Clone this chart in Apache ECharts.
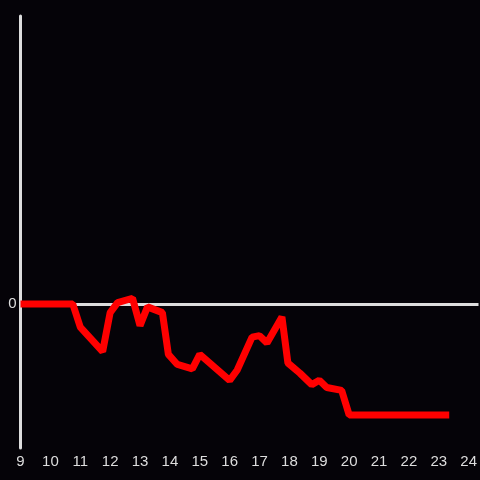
<!doctype html>
<html>
    <head>
        <meta charset="utf-8">
        <title>Line</title>
        <style>
            html, body { margin: 0; padding: 0; background: #050308; }
            #main { width: 480px; height: 480px; }
        </style>
    </head>
    <body>
        <div id="main"></div>
        <script src="https://cdn.jsdelivr.net/npm/echarts@6/dist/echarts.min.js"></script>
        <script>
            var chart = echarts.init(document.getElementById('main'));

            // hour of day
            var hours = [9, 10.75, 11, 11.75, 12, 12.25, 12.75, 13, 13.25, 13.75, 13.95, 14.25, 14.75, 15,
                16, 16.25, 16.75, 17, 17.25, 17.75, 17.95, 18.35, 18.75, 19, 19.25, 19.75, 20, 20.2, 23.35];
            var values = [0, 0, -0.16, -0.33, -0.06, 0.01, 0.04, -0.15, -0.02, -0.06, -0.35, -0.42, -0.45, -0.35,
                -0.53, -0.46, -0.23, -0.22, -0.27, -0.09, -0.41, -0.48, -0.56, -0.53, -0.58, -0.6, -0.77, -0.77, -0.77];

            var data = hours.map(function (h, i) { return [h, values[i]]; });

            chart.setOption({
                backgroundColor: '#050308',
                animation: false,
                grid: {
                    left: 20.5,
                    right: 0,
                    top: 16,
                    bottom: 32
                },
                xAxis: {
                    type: 'value',
                    min: 9,
                    max: 24.33,
                    interval: 1,
                    axisLine: { show: false },
                    axisTick: { show: false },
                    splitLine: { show: false },
                    axisLabel: {
                        color: '#dddddd',
                        fontSize: 15,
                        margin: 6,
                        showMaxLabel: false,
                        formatter: function (v) {
                            return Math.abs(v - Math.round(v)) < 1e-6 ? String(Math.round(v)) : '';
                        }
                    }
                },
                yAxis: {
                    type: 'value',
                    min: -1,
                    max: 2,
                    interval: 1,
                    axisLine: { show: true, onZero: false, lineStyle: { color: '#dddddd', width: 3 } },
                    axisTick: { show: false },
                    splitLine: { show: false },
                    axisLabel: {
                        color: '#dddddd',
                        fontSize: 15,
                        margin: 4,
                        formatter: function (v) { return v === 0 ? '0' : ''; }
                    }
                },
                series: [{
                    type: 'line',
                    data: data,
                    showSymbol: false,
                    lineStyle: { color: '#ff0000', width: 7 },
                    z: 3,
                    markLine: {
                        silent: true,
                        symbol: 'none',
                        label: { show: false },
                        lineStyle: { color: '#dddddd', width: 3, type: 'solid' },
                        data: [{ yAxis: 0 }],
                        z: 1
                    }
                }]
            });
        </script>
    </body>
</html>
